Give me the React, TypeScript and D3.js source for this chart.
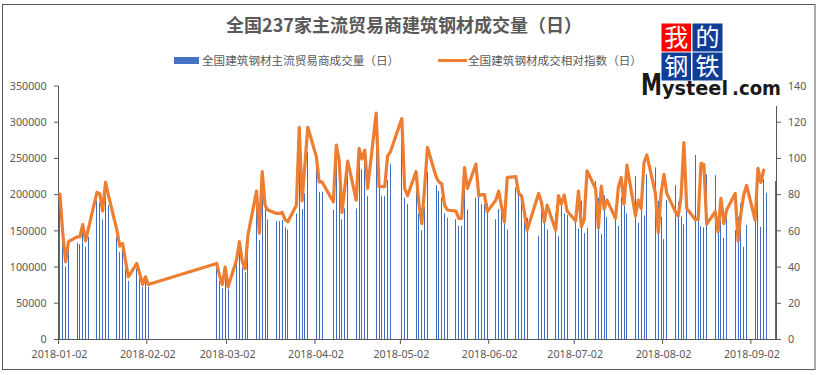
import React from "react";
import * as d3 from "d3";

const titleText = "全国237家主流贸易商建筑钢材成交量（日）";
const barName = "全国建筑钢材主流贸易商成交量（日）";
const lineName = "全国建筑钢材成交相对指数（日）";
const xTickLabels = ["2018-01-02","2018-02-02","2018-03-02","2018-04-02","2018-05-02","2018-06-02","2018-07-02","2018-08-02","2018-09-02"];
const leftTicks = [0,50000,100000,150000,200000,250000,300000,350000];
const rightTicks = [0,20,40,60,80,100,120,140];

const tradingDays = [
  "01-02","01-03","01-04","01-05",
  "01-08","01-09","01-10","01-11","01-12",
  "01-15","01-16","01-17","01-18","01-19",
  "01-22","01-23","01-24","01-25","01-26",
  "01-29","01-30","01-31","02-01","02-02",
  "02-26","02-27","02-28","03-01","03-02",
  "03-05","03-06","03-07","03-08","03-09",
  "03-12","03-13","03-14","03-15","03-16",
  "03-19","03-20","03-21","03-22","03-23",
  "03-26","03-27","03-28","03-29","03-30",
  "04-02","04-03","04-04",
  "04-08","04-09","04-10","04-11","04-12","04-13",
  "04-16","04-17","04-18","04-19","04-20",
  "04-23","04-24","04-25","04-26","04-27","04-28",
  "05-02","05-03","05-04",
  "05-07","05-08","05-09","05-10","05-11",
  "05-14","05-15","05-16","05-17","05-18",
  "05-21","05-22","05-23","05-24","05-25",
  "05-28","05-29","05-30","05-31","06-01",
  "06-04","06-05","06-06","06-07","06-08",
  "06-11","06-12","06-13","06-14","06-15",
  "06-19","06-20","06-21","06-22",
  "06-25","06-26","06-27","06-28","06-29",
  "07-02","07-03","07-04","07-05","07-06",
  "07-09","07-10","07-11","07-12","07-13",
  "07-16","07-17","07-18","07-19","07-20",
  "07-23","07-24","07-25","07-26","07-27",
  "07-30","07-31","08-01","08-02","08-03",
  "08-06","08-07","08-08","08-09","08-10",
  "08-13","08-14","08-15","08-16","08-17",
  "08-20","08-21","08-22","08-23","08-24",
  "08-27","08-28","08-29","08-30","08-31",
  "09-03","09-04","09-05","09-06","09-07",
  "09-10",
];

const tradedVolume = [
  199000,142000,101000,132000,
  133500,131700,151000,128000,141800,
  191600,188800,166000,202000,185600,
  141800,121000,125700,102000,81000,
  98000,84000,72800,82000,72800,
  98000,80600,71000,93500,69500,
  106000,123000,99500,93000,132000,
  192000,137000,220000,180000,166000,
  163500,163500,165000,155000,152000,
  174000,238000,180000,202000,259000,
  236000,204000,204000,
  179000,248000,234000,166000,181000,234000,
  181000,248000,235000,245000,198000,
  293000,222000,198000,198000,220000,242000,
  280000,196000,187000,
  215000,174000,151000,183000,232000,
  213000,205000,196000,174000,168000,
  166000,157000,157000,229000,179000,
  196000,197000,187000,187000,188000,
  166000,180000,189000,161000,152000,
  210000,201000,190000,167000,168000,
  143000,179000,165000,152000,
  174000,143000,185600,174000,172000,
  162600,153000,191600,147000,154000,
  218800,195700,145500,199000,169000,
  165000,157000,197000,184700,174000,
  225600,161000,185600,170900,228000,
  237600,191600,169500,138600,192500,
  213000,190000,169500,159000,181000,
  254700,167000,156600,155000,228000,
  227000,165000,165000,140500,174000,
  151000,169500,188000,128000,158000,
  165000,199000,155600,221500,202600,
  218800,
];

const relativeIndex: (number | null)[] = [
  80.3,58.6,42.9,54,
  56.7,56.7,63.5,54.5,61.3,
  81.2,80.5,71,86.8,79.8,
  60.4,51.6,53,43.8,34.6,
  42,36.5,30.4,34.6,30.4,
  42,35.5,30.4,40,29,
  44,54,43,39,57.7,
  82,58.6,92.7,74,71.5,
  69.6,69.6,70.2,66.3,65,
  74.2,117.2,76.6,97,117.2,
  101,87,87,
  76,107.4,99,70.2,84,98.5,
  77,105.5,99.7,104.6,83.4,
  125,84.4,84.4,84.4,101.3,103.7,
  122,83.4,79.4,
  92.7,75,64,84,106,
  90,87,86,74.2,71.5,
  70.9,66.9,66.9,95,83.4,
  96.9,79.4,80,80,70.6,
  77,82,73.3,65,89.5,
  89.9,80.7,79.4,70.6,60.4,
  80.7,76,65,74.2,
  60.4,79.4,74.8,79.8,71,
  65.6,82,62.3,66,93.2,
  83.4,61.7,84.7,72,77,
  66.9,84,89.5,74.8,96.3,
  68.3,77,72.4,97.6,101.9,
  80.7,59,80.7,91.2,80.7,
  70.6,68.2,78.8,108.7,72.4,
  66.3,66.3,97.3,96.7,63.7,
  70.6,59.5,78,64,71.5,
  80.7,54.5,69.6,79.8,85.1,
  66,94.5,86.8,93.6,null,
  null,
];

const parse = d3.utcParse("%Y-%m-%d");
const day = (md: string) => parse("2018-" + md) as Date;
const mid = (md: string) => d3.utcHour.offset(day(md), 12);

const font = '"Noto Sans CJK SC", "Noto Sans", sans-serif';
const latin = '"Noto Sans", "Open Sans", sans-serif';
const logoFont = '"DejaVu Sans", sans-serif';
const gray = "#595959";

export default function App() {
  const x = d3.scaleUtc().domain([parse("2018-01-02") as Date, parse("2018-09-11") as Date]).range([58.5, 776.5]);
  const yL = d3.scaleLinear().domain([0, 350000]).range([339.5, 86]);
  const yR = d3.scaleLinear().domain([0, 140]).range([339.5, 86]);
  const pts = tradingDays
    .map((d, i) => ({ d, v: relativeIndex[i] }))
    .filter((p) => p.v !== null) as { d: string; v: number }[];
  const path = d3.line<{ d: string; v: number }>()
    .x((p) => x(mid(p.d)))
    .y((p) => yR(p.v))
    .curve(d3.curveLinear)(pts) as string;

  return (
    <svg width={820} height={375} style={{ position: "absolute", left: 0, top: 0, display: "block", background: "#fff" }}>
      <rect x={2.5} y={4.5} width={812.5} height={365} fill="#fff" stroke="#595959" strokeWidth={1} />
      <text x={404} y={32} textAnchor="middle" fontFamily={font} fontSize={18} fontWeight={700} fill={gray}>{titleText}</text>

      <rect x={174} y={57} width={25} height={7} fill="#4472C4" />
      <text x={202} y={64.5} fontFamily={font} fontSize={11.6} fill={gray}>{barName}</text>
      <line x1={438} x2={467} y1={60.5} y2={60.5} stroke="#ED7D31" strokeWidth={3} />
      <text x={468} y={64.5} fontFamily={font} fontSize={11.6} fill={gray}>{lineName}</text>

      {tradingDays.map((d, i) => (
        <rect key={d} x={Math.round(x(mid(d)) - 0.5)} width={1} y={yL(tradedVolume[i])} height={339.5 - yL(tradedVolume[i])} fill="#3F6DC4" />
      ))}

      <g stroke={gray} strokeWidth={1}>
        <line x1={58.5} x2={58.5} y1={86} y2={339.5} />
        <line x1={776.5} x2={776.5} y1={86} y2={339.5} />
        <line x1={54} x2={781} y1={339.5} y2={339.5} />
        {leftTicks.map((t) => <line key={t} x1={54} x2={58.5} y1={yL(t)} y2={yL(t)} />)}
        {rightTicks.map((t) => <line key={t} x1={776.5} x2={781} y1={yR(t)} y2={yR(t)} />)}
        {xTickLabels.map((t) => <line key={t} x1={x(parse(t) as Date)} x2={x(parse(t) as Date)} y1={339.5} y2={344} />)}
      </g>

      <path d={path} fill="none" stroke="#ED7D31" strokeWidth={3.2} strokeLinejoin="round" strokeLinecap="round" />

      <g fontFamily={latin} fontSize={10.7} fill={gray}>
        {leftTicks.map((t) => <text key={t} x={46.5} y={yL(t) + 3.8} textAnchor="end">{t}</text>)}
        {xTickLabels.map((t) => <text key={t} x={x(parse(t) as Date) + 1} y={358} textAnchor="middle">{t}</text>)}
      </g>

      {/* logo with its white background covers the top of the right axis */}
      <rect x={641} y={22} width={143} height={84} fill="#fff" />
      <g fontFamily={latin} fontSize={10.7} fill={gray}>
        {rightTicks.map((t) => <text key={t} x={788} y={yR(t) + 3.8}>{t}</text>)}
      </g>
      <g textAnchor="middle" fontFamily={font} fontSize={24} fill="#fff">
        <rect x={661.5} y={23.5} width={29.5} height={28} fill="#FF0000" />
        <rect x={692.5} y={23.5} width={30} height={28} fill="#103E96" />
        <rect x={661.5} y={52.5} width={29.5} height={28} fill="#103E96" />
        <rect x={692.5} y={52.5} width={30} height={28} fill="#103E96" />
        <text x={676.2} y={46}>我</text>
        <text x={707.5} y={46}>的</text>
        <text x={676.2} y={75}>钢</text>
        <text x={707.5} y={75}>铁</text>
      </g>
      <g fontFamily={logoFont} fontWeight={700} fill="#1a1a1a">
        <text x={641} y={95} fontSize={30} textLength={21} lengthAdjust="spacingAndGlyphs">M</text>
        <text x={662} y={95} fontSize={20} textLength={66} lengthAdjust="spacingAndGlyphs">ysteel</text>
        <text x={732} y={95} fontSize={20} textLength={49} lengthAdjust="spacingAndGlyphs">.com</text>
      </g>
    </svg>
  );
}
